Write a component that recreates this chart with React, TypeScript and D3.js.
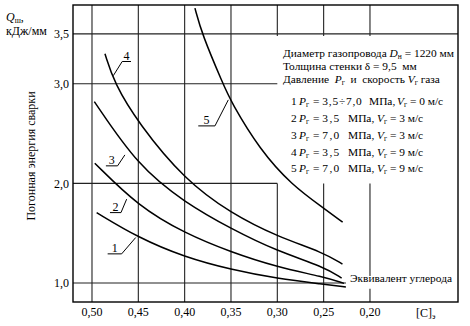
import React from 'react';
import * as d3 from 'd3';

// Carbon equivalent ticks (axis reversed) and heat input ticks
const cTicks = [0.5, 0.45, 0.4, 0.35, 0.3, 0.25, 0.2];
const qTicks = [1.0, 2.0, 3.0, 3.5];

// Curves: [carbon equivalent, Q (kJ/mm)]
const series1: [number, number][] = [
  [0.495, 1.707], [0.45, 1.455], [0.4, 1.26], [0.35, 1.135], [0.3, 1.045], [0.25, 0.988], [0.226, 0.96],
];
const series2: [number, number][] = [
  [0.497, 2.203], [0.45, 1.77], [0.4, 1.5], [0.35, 1.31], [0.3, 1.16], [0.25, 1.062], [0.228, 0.997],
];
const series3: [number, number][] = [
  [0.4975, 2.821], [0.45, 2.17], [0.4, 1.81], [0.35, 1.545], [0.3, 1.32], [0.25, 1.165], [0.2306, 1.05],
];
const series4: [number, number][] = [
  [0.486, 3.3], [0.476, 3.006], [0.45, 2.604], [0.4, 2.036], [0.35, 1.7], [0.3, 1.467], [0.25, 1.306], [0.2297, 1.19],
];
const series5: [number, number][] = [
  [0.3889, 3.759], [0.3813, 3.497], [0.3586, 2.999], [0.35, 2.818], [0.3187, 2.336], [0.2845, 1.985], [0.25, 1.752], [0.2295, 1.611],
];
const allSeries = [series1, series2, series3, series4, series5];

// Curve labels: text, anchor on curve (c,Q), underline from c1 to c2 at Q
const labelNames = ['1', '2', '3', '4', '5'];
const labelAnchors: [number, number][] = [[0.4528, 1.457], [0.4626, 1.842], [0.4645, 2.286], [0.477, 3.081], [0.3529, 2.838]];
const labelLines: [number, number, number][] = [
  [0.4831, 0.468, 1.293], [0.4806, 0.4687, 1.707], [0.485, 0.4724, 2.176], [0.4579, 0.4674, 3.223], [0.3853, 0.3673, 2.577],
];

const legendRows = [
  { n: '1', p: '3,5÷7,0', v: '0' },
  { n: '2', p: '3,5', v: '3' },
  { n: '3', p: '7,0', v: '3' },
  { n: '4', p: '3,5', v: '9' },
  { n: '5', p: '7,0', v: '9' },
];

const W = 470, H = 326;
const x = d3.scaleLinear().domain([0.5205, 0.105]).range([73, 458]);
const y = d3.scaleLinear().domain([0.81, 3.79]).range([302, 5]);
const fmtC = (v: number) => d3.format('.2f')(v).replace('.', ',');
const fmtQ = (v: number) => d3.format('.1f')(v).replace('.', ',');

const line = d3.line<[number, number]>().x(d => x(d[0])).y(d => y(d[1])).curve(d3.curveBasis);

const FONT = '"Liberation Serif", "Times New Roman", serif';

export default function App() {
  const left = x.range()[0], right = x.range()[1];
  const top = y.range()[1], bottom = y.range()[0];
  const hLines = [
    { q: 3.5, end: right },
    { q: 3.0, end: x(0.3) },
    { q: 2.0, end: x(0.3) },
    { q: 1.0, end: x(0.2259) },
  ];
  const vSegs: { c: number; y1: number; y2: number }[] = [];
  cTicks.forEach(c => {
    if (c > 0.31) vSegs.push({ c, y1: top, y2: bottom });
    else {
      vSegs.push({ c, y1: top, y2: y(3.5) + 2 });
      if (c > 0.21) vSegs.push({ c, y1: y(2.0), y2: bottom });
      else {
        vSegs.push({ c, y1: y(2.0), y2: y(1.072) });
        vSegs.push({ c, y1: y(0.942), y2: bottom });
      }
    }
  });
  const rowY = [105, 122, 139, 156, 172];
  const LF = 11.4;
  return (
    <svg width={W} height={H} style={{ position: 'absolute', left: 0, top: 0, background: '#fff' }} fontFamily={FONT}>
      <rect x={0} y={0} width={W} height={H} fill="#fff" />
      {hLines.map(h => (
        <line key={'h' + h.q} x1={left} x2={h.end} y1={y(h.q)} y2={y(h.q)} stroke="#222" strokeWidth={1.1} />
      ))}
      {vSegs.map((v, i) => (
        <line key={'v' + i} x1={x(v.c)} x2={x(v.c)} y1={v.y1} y2={v.y2} stroke="#222" strokeWidth={1.1} />
      ))}
      <rect x={left} y={top} width={right - left} height={bottom - top} fill="none" stroke="#000" strokeWidth={1.4} />
      {allSeries.map((s, i) => (
        <path key={'s' + i} d={line(s) || ''} fill="none" stroke="#000" strokeWidth={1.5} />
      ))}
      {labelNames.map((n, i) => {
        const [c1, c2, q] = labelLines[i];
        const [ac, aq] = labelAnchors[i];
        return (
          <g key={'l' + n}>
            <line x1={x(c1)} x2={x(c2)} y1={y(q)} y2={y(q)} stroke="#000" strokeWidth={1} />
            <line x1={x(c2)} x2={x(ac)} y1={y(q)} y2={y(aq)} stroke="#000" strokeWidth={1} />
            <text x={(x(c1) + x(c2)) / 2} y={y(q) - 2} textAnchor="middle" fontSize={12}>{n}</text>
          </g>
        );
      })}
      {qTicks.map(q => (
        <text key={'qt' + q} x={69} y={y(q)} dy="0.35em" textAnchor="end" fontSize={12}>{fmtQ(q)}</text>
      ))}
      {cTicks.map(c => (
        <text key={'ct' + c} x={x(c)} y={316} textAnchor="middle" fontSize={12}>{fmtC(c)}</text>
      ))}
      <text x={416} y={317} fontSize={12}>[C]<tspan fontSize={8} dy={2}>э</tspan></text>
      <text x={350} y={282} fontSize={LF}>Эквивалент углерода</text>
      <text x={6} y={21} fontSize={12}><tspan fontStyle="italic">Q</tspan><tspan fontSize={8} dy={2}>ш</tspan><tspan dy={-2}>,</tspan></text>
      <text x={6} y={35} fontSize={12}>кДж/мм</text>
      <text transform="translate(35,156) rotate(-90)" textAnchor="middle" fontSize={12}>Погонная энергия сварки</text>
      <text x={283} y={57} fontSize={LF}>Диаметр газопровода <tspan fontStyle="italic">D</tspan><tspan fontSize={7.5} dy={2}>н</tspan><tspan dy={-2}> = 1220 мм</tspan></text>
      <text x={283} y={70} fontSize={LF} style={{ whiteSpace: 'pre' }}>Толщина стенки δ = 9,5  мм</text>
      <text x={283} y={83} fontSize={LF} style={{ whiteSpace: 'pre' }}>Давление  <tspan fontStyle="italic">P</tspan><tspan fontSize={7.5} dy={2}>г</tspan><tspan dy={-2}>  и  скорость </tspan><tspan fontStyle="italic">V</tspan><tspan fontSize={7.5} dy={2}>г</tspan><tspan dy={-2}> газа</tspan></text>
      {legendRows.map((r, i) => {
        const first = i === 0;
        const yy = rowY[i];
        return (
          <g key={'r' + i} fontSize={LF}>
            <text x={291} y={yy}>{r.n}</text>
            <text x={299} y={yy}><tspan fontStyle="italic">P</tspan><tspan fontSize={7.5} dy={2}>г</tspan></text>
            <text x={313} y={yy}>= <tspan letterSpacing={first ? 0.8 : 1.4}>{r.p}</tspan></text>
            <text x={first ? 369 : 348} y={yy}>МПа,</text>
            <text x={first ? 397 : 377} y={yy}><tspan fontStyle="italic">V</tspan><tspan fontSize={7.5} dy={2}>г</tspan><tspan dy={-2}> = {r.v} м/с</tspan></text>
          </g>
        );
      })}
    </svg>
  );
}
